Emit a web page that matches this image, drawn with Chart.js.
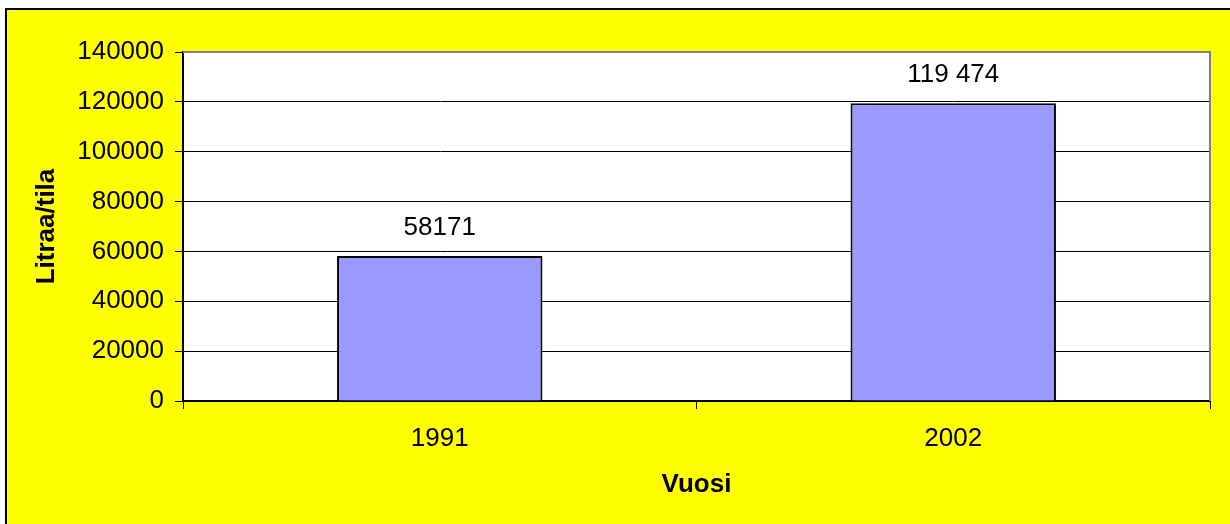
<!DOCTYPE html>
<html>
<head>
<meta charset="utf-8">
<script src="https://cdn.jsdelivr.net/npm/chart.js@4/dist/chart.umd.min.js"></script>
<style>
  html, body { margin: 0; padding: 0; background: #ffffff; }
  canvas { display: block; }
</style>
</head>
<body>
<canvas id="c" width="1230" height="524"></canvas>
<script>
// ---- data ----
const categories = ['1991', '2002'];
const values = [58171, 119474];
const valueLabels = ['58171', '119 474'];
const yMin = 0;
const yMax = 140000;
const yStep = 20000;
const xTitle = 'Vuosi';
const yTitle = 'Litraa/tila';

const FONT = '"Liberation Sans", Arial, sans-serif';

const framePlugin = {
  id: 'frame',
  beforeDraw(chart) {
    const ctx = chart.ctx;
    const W = chart.width, H = chart.height;
    ctx.save();
    ctx.fillStyle = '#ffffff';
    ctx.fillRect(0, 0, W, H);
    ctx.fillStyle = '#ffff00';
    ctx.fillRect(5, 8, W - 5, H - 8);
    ctx.strokeStyle = '#000000';
    ctx.lineWidth = 2;
    ctx.beginPath();
    ctx.moveTo(6, H);
    ctx.lineTo(6, 9);
    ctx.lineTo(W, 9);
    ctx.stroke();
    const a = chart.chartArea;
    ctx.fillStyle = '#ffffff';
    ctx.fillRect(a.left, a.top, a.right - a.left, a.bottom - a.top);
    ctx.restore();
  },
  beforeDatasetsDraw(chart) {
    const ctx = chart.ctx;
    const a = chart.chartArea;
    ctx.save();
    ctx.strokeStyle = '#808080';
    ctx.lineWidth = 2;
    ctx.beginPath();
    ctx.moveTo(a.left, a.top);
    ctx.lineTo(a.right, a.top);
    ctx.lineTo(a.right, a.bottom);
    ctx.stroke();
    ctx.restore();
  },
  afterDatasetsDraw(chart) {
    const ctx = chart.ctx;
    const meta = chart.getDatasetMeta(0);
    ctx.save();
    ctx.fillStyle = '#000000';
    ctx.font = '26px ' + FONT;
    ctx.textAlign = 'center';
    ctx.textBaseline = 'middle';
    meta.data.forEach((bar, i) => {
      ctx.fillText(valueLabels[i], bar.x, bar.y - 28);
    });
    ctx.restore();
  }
};

new Chart(document.getElementById('c'), {
  type: 'bar',
  data: {
    labels: categories,
    datasets: [{
      data: values,
      backgroundColor: '#9999ff',
      borderColor: '#000000',
      borderWidth: 2,
      barPercentage: 0.4,
      categoryPercentage: 1.0
    }]
  },
  options: {
    responsive: false,
    animation: false,
    devicePixelRatio: 1,
    layout: { padding: { left: 0, top: 52, right: 20, bottom: 0 } },
    plugins: {
      legend: { display: false },
      tooltip: { enabled: false },
      title: { display: false }
    },
    scales: {
      x: {
        grid: {
          offset: true,
          drawOnChartArea: false,
          drawTicks: true,
          tickLength: 8,
          tickColor: '#000000',
          tickWidth: 1
        },
        border: { color: '#000000', width: 2 },
        ticks: {
          color: '#000000',
          font: { family: FONT, size: 26 },
          padding: 14,
          maxRotation: 0
        },
        title: {
          display: true,
          text: xTitle,
          color: '#000000',
          font: { family: FONT, size: 26, weight: 'bold' },
          padding: { top: 0, bottom: 24 }
        },
        afterFit(scale) { scale.height = 123; }
      },
      y: {
        min: yMin,
        max: yMax,
        grid: {
          color: (c) => (c.tick && c.tick.value === yMax) ? 'rgba(0,0,0,0)' : '#000000',
          lineWidth: 1,
          tickLength: 8,
          tickColor: '#000000',
          tickWidth: 1
        },
        border: { color: '#000000', width: 2 },
        ticks: {
          stepSize: yStep,
          color: '#000000',
          font: { family: FONT, size: 26 },
          padding: 11,
          callback: (v) => String(v)
        },
        title: {
          display: true,
          text: yTitle,
          color: '#000000',
          font: { family: FONT, size: 26, weight: 'bold' },
          padding: { top: 31, bottom: 0 }
        },
        afterFit(scale) { scale.width = 183; }
      }
    }
  },
  plugins: [framePlugin]
});
</script>
</body>
</html>
